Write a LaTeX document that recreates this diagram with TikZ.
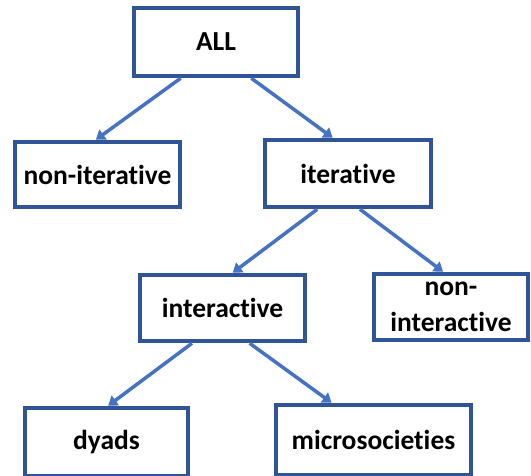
\documentclass[tikz,border=0pt]{standalone}
\usepackage{fontspec}
\setmainfont[Ligatures={NoCommon,NoRare,NoContextual}]{Carlito}
\usetikzlibrary{arrows.meta,calc}
\definecolor{boxblue}{HTML}{2F5597}
\definecolor{arrblue}{HTML}{4472C4}
\begin{document}
\begin{tikzpicture}[x=1pt,y=-1pt,
  box/.style={draw=boxblue,line width=4.5pt,fill=white,inner sep=0pt,
    font=\fontsize{27.5}{36}\selectfont\bfseries,align=center},
  conn/.style={draw=arrblue,line width=3.5pt,-{Triangle[length=9pt,width=12pt]}}]
\useasboundingbox (0,0) rectangle (531,475);
\begin{scope}
\clip (0,0) rectangle (531,475);
\node[box,minimum width=164pt,minimum height=68pt] (all) at (216,42) {ALL};
\node[box,minimum width=165pt,minimum height=65pt] (noniter) at (97.5,174.5) {non-iterative};
\node[box,minimum width=166pt,minimum height=67pt] (iter) at (348,173.5) {iterative};
\node[box,minimum width=165pt,minimum height=66pt] (inter) at (222.5,308) {interactive};
\node[box,minimum width=154pt,minimum height=66pt] (noninter) at (451,307) {non-\\interactive};
\node[box,minimum width=163pt,minimum height=68pt] (dyads) at (106.5,442) {dyads};
\node[box,minimum width=195pt,minimum height=70pt] (micro) at (373.5,440) {microsocieties};
\draw[conn] ($(all.south west)!0.29!(all.south east)$) -- ($(noniter.north west)!0.49!(noniter.north east)$);
\draw[conn] ($(all.south west)!0.71!(all.south east)$) -- ($(iter.north west)!0.41!(iter.north east)$);
\draw[conn] ($(iter.south west)!0.32!(iter.south east)$) -- ($(inter.north west)!0.56!(inter.north east)$);
\draw[conn] ($(iter.south west)!0.57!(iter.south east)$) -- ($(noninter.north west)!0.45!(noninter.north east)$);
\draw[conn] ($(inter.south west)!0.32!(inter.south east)$) -- ($(dyads.north west)!0.51!(dyads.north east)$);
\draw[conn] ($(inter.south west)!0.66!(inter.south east)$) -- ($(micro.north west)!0.29!(micro.north east)$);
\end{scope}
\end{tikzpicture}
\end{document}
